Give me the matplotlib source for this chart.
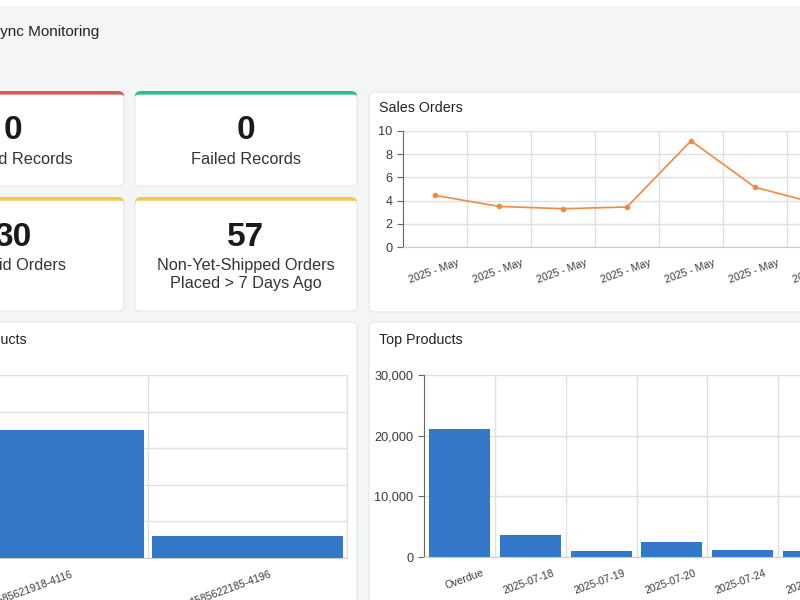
import matplotlib
matplotlib.use("Agg")
import matplotlib.pyplot as plt
from matplotlib.patches import FancyBboxPatch, Rectangle
from matplotlib.ticker import FuncFormatter

plt.rcParams['font.family'] = ['Liberation Sans', 'DejaVu Sans']

# ---- data ----
dashboard_title = "Sync Monitoring"

kpi_values = ["0", "0", "30", "57"]
kpi_labels = ["Synced Records", "Failed Records", "Unpaid Orders",
              "Non-Yet-Shipped Orders\nPlaced > 7 Days Ago"]
kpi_colors = ["#e0555a", "#2fbf8c", "#f2c94c", "#f2c94c"]

sales_months = ["2025 - May"] * 7
sales_counts = [4.45, 3.5, 3.3, 3.45, 9.15, 5.15, 3.7]

sku_labels = ["1585621918-4116", "1585622185-4196"]
sku_qty = [35, 6]

date_labels = ["Overdue", "2025-07-18", "2025-07-19", "2025-07-20", "2025-07-24", "2025-07-25"]
date_qty = [21100, 3600, 1000, 2450, 1150, 950]

W, H = 800, 600
BG = "#f4f5f7"
BLUE = "#3479c9"
GRID = "#e0e0e0"
TXT = "#222222"
TICK = "#3a3a3a"

fig = plt.figure(figsize=(8, 6), dpi=100)
fig.patch.set_facecolor(BG)


def fx(x):
    return x / W


def fy(y):
    return 1 - y / H


def card(l, t, r, b, top_color=None):
    # white card with rounded corners, optional coloured top strip
    if top_color:
        fig.patches.append(FancyBboxPatch((fx(l), fy(b)), fx(r) - fx(l), fy(t) - fy(b),
                                          boxstyle="round,pad=0,rounding_size=0.008",
                                          transform=fig.transFigure, facecolor=top_color,
                                          edgecolor="none", zorder=1))
        fig.patches.append(FancyBboxPatch((fx(l), fy(b)), fx(r) - fx(l), fy(t + 4) - fy(b),
                                          boxstyle="round,pad=0,rounding_size=0.006",
                                          transform=fig.transFigure, facecolor="white",
                                          edgecolor="#e4e5e8", linewidth=0.7, zorder=2))
        fig.patches.append(Rectangle((fx(l + 1), fy(t + 10)), fx(r - 1) - fx(l + 1), fy(t + 4) - fy(t + 10),
                                     transform=fig.transFigure, facecolor="white",
                                     edgecolor="none", zorder=3))
    else:
        fig.patches.append(FancyBboxPatch((fx(l), fy(b)), fx(r) - fx(l), fy(t) - fy(b),
                                          boxstyle="round,pad=0,rounding_size=0.008",
                                          transform=fig.transFigure, facecolor="white",
                                          edgecolor="#e4e5e8", linewidth=0.7, zorder=2))


def px_axes(l, t, r, b):
    ax = fig.add_axes([fx(l), fy(b), fx(r) - fx(l), fy(t) - fy(b)])
    ax.set_facecolor("none")
    ax.set_zorder(10)
    ax.px_width = r - l
    return ax


# top white strip
fig.patches.append(Rectangle((0, fy(6)), 1, 6 / H, transform=fig.transFigure,
                             facecolor="white", edgecolor="none", zorder=1))
fig.text(fx(99), fy(32), dashboard_title, ha="right", va="center", fontsize=11, color=TXT)

# ---- KPI cards ----
kpi_boxes = [(-98, 91, 124, 186), (135, 91, 357, 186), (-98, 197, 124, 311), (135, 197, 357, 311)]
for (l, t, r, b), val, lab, col in zip(kpi_boxes, kpi_values, kpi_labels, kpi_colors):
    card(l, t, r, b, col)
    cx = (l + r) / 2
    fig.text(fx(cx), fy(t + 40), val, ha="center", va="center", fontsize=24,
             fontweight="bold", color="#1a1a1a", zorder=5)
    fig.text(fx(cx), fy(t + 61), lab, ha="center", va="top", fontsize=11.7,
             color="#333333", linespacing=1.25, zorder=5)

# ---- chart cards ----
card(369, 92, 830, 312)
card(-110, 322, 357, 640)
card(369, 322, 830, 640)

fig.text(fx(379), fy(108), "Sales Orders", ha="left", va="center", fontsize=10.3, color=TXT)
fig.text(fx(27), fy(340), "Top Products", ha="right", va="center", fontsize=10.3, color=TXT)
fig.text(fx(379), fy(340), "Top Products", ha="left", va="center", fontsize=10.3, color=TXT)


def style_axes(ax, labels, left_color="#666666"):
    n = len(labels)
    ax.set_xlim(-0.5, n - 0.5)
    # rotated labels end about 22 px right of the category centre
    off = 22 / (ax.px_width / n)
    ax.set_xticks([i + off for i in range(n)])
    ax.set_xticklabels(labels, rotation=20, ha="right", va="top", rotation_mode="anchor")
    ax.set_xticks([i + 0.5 for i in range(n)], minor=True)
    ax.grid(axis="y", color=GRID, lw=1)
    ax.grid(axis="x", which="minor", color=GRID, lw=1)
    ax.tick_params(axis="x", which="minor", length=0)
    for s in ["top", "right"]:
        ax.spines[s].set_visible(False)
    ax.spines["left"].set_color(left_color)
    ax.spines["bottom"].set_color("#cccccc")
    ax.tick_params(axis="y", colors=TICK, labelsize=9.2, length=4, width=0.8, color="#666666")
    ax.tick_params(axis="x", colors=TICK, labelsize=7.6, length=0, pad=8)
    ax.set_axisbelow(True)


# sales orders line
ax1 = px_axes(403, 131, 851, 247)
ax1.plot(range(len(sales_counts)), sales_counts, color="#ee8a45", lw=1.2, marker="o", ms=3, zorder=3)
ax1.set_ylim(0, 10)
ax1.set_yticks(range(0, 11, 2))
style_axes(ax1, sales_months)

# left top products (by sku)
ax2 = px_axes(-51, 375, 347, 558)
ax2.bar(range(len(sku_qty)), sku_qty, width=0.955, color=BLUE, zorder=3)
ax2.set_ylim(0, 50)
ax2.set_yticks(range(0, 51, 10))
style_axes(ax2, sku_labels)
ax2.spines["right"].set_visible(True)
ax2.spines["right"].set_color(GRID)

# right top products (by date)
ax3 = px_axes(424, 375, 849, 557)
ax3.bar(range(len(date_qty)), date_qty, width=0.86, color=BLUE, zorder=3)
ax3.set_ylim(0, 30000)
ax3.set_yticks([0, 10000, 20000, 30000])
ax3.yaxis.set_major_formatter(FuncFormatter(lambda v, p: f"{int(v):,}"))
style_axes(ax3, date_labels)

fig.savefig("out.png", dpi=100, facecolor=fig.get_facecolor())
